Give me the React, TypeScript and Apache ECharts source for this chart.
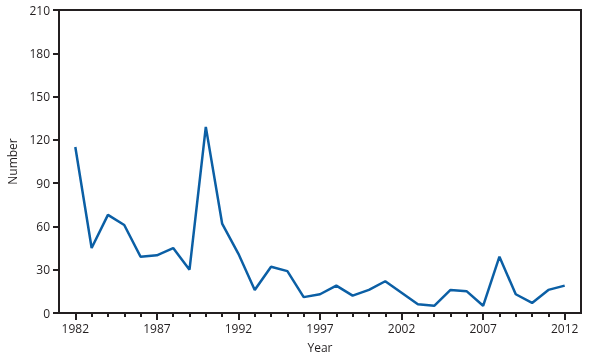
import React, { useEffect, useRef } from "react";
import * as echarts from "echarts";

const years: string[] = [];
for (let y = 1981; y <= 2013; y++) years.push(String(y));

const dataYears = [1982, 1983, 1984, 1985, 1986, 1987, 1988, 1989, 1990, 1991, 1992, 1993, 1994, 1995, 1996, 1997, 1998, 1999, 2000, 2001, 2002, 2003, 2004, 2005, 2006, 2007, 2008, 2009, 2010, 2011, 2012];
const counts = [115, 45, 68, 61, 39, 40, 45, 30, 129, 62, 41, 16, 32, 29, 11, 13, 19, 12, 16, 22, 14, 6, 5, 16, 15, 5, 39, 13, 7, 16, 19];
const labeledYears = ["1982", "1987", "1992", "1997", "2002", "2007", "2012"];

const seriesData = years.map((y) => {
  const i = dataYears.indexOf(Number(y));
  return i >= 0 ? counts[i] : null;
});

const FONT = "Open Sans";
const TXT = "#231f20";

export default function App() {
  const ref = useRef<HTMLDivElement>(null);
  useEffect(() => {
    if (!ref.current) return;
    const chart = echarts.init(ref.current, null, { renderer: "svg" });
    chart.setOption({
      animation: false,
      grid: {
        left: 59, right: 19, top: 10, bottom: 45,
        containLabel: false,
        outerBoundsMode: "none",
        show: true, borderColor: "#231f20", borderWidth: 2, backgroundColor: "transparent",
      },
      xAxis: [
        {
          type: "category",
          data: years,
          boundaryGap: false,
          name: "Year",
          nameLocation: "middle",
          nameGap: 28,
          nameTextStyle: { fontFamily: FONT, fontSize: 12, color: TXT },
          axisLine: { lineStyle: { color: TXT, width: 2 } },
          axisTick: {
            interval: (i: number, v: string) => v !== "1981" && v !== "2013" && !labeledYears.includes(v),
            length: 4,
            lineStyle: { color: TXT, width: 2 },
          },
          axisLabel: {
            interval: (i: number, v: string) => labeledYears.includes(v),
            fontFamily: FONT,
            fontSize: 12,
            color: TXT,
            margin: 9,
          },
          splitLine: { show: false },
        },
        {
          type: "category",
          data: years,
          boundaryGap: false,
          position: "bottom",
          axisLine: { show: false },
          axisTick: {
            interval: (i: number, v: string) => labeledYears.includes(v),
            length: 7,
            lineStyle: { color: TXT, width: 2 },
          },
          axisLabel: { show: false },
          splitLine: { show: false },
        },
      ],
      yAxis: {
        type: "value",
        min: 0,
        max: 210,
        interval: 30,
        name: "Number",
        nameLocation: "middle",
        nameGap: 40,
        nameRotate: 90,
        nameTextStyle: { fontFamily: FONT, fontSize: 12, color: TXT },
        axisLine: { show: true, lineStyle: { color: TXT, width: 2 } },
        axisTick: { show: true, length: 6, lineStyle: { color: TXT, width: 2 } },
        axisLabel: { fontFamily: FONT, fontSize: 12, color: TXT, margin: 9 },
        splitLine: { show: false },
      },
      series: [
        {
          type: "line",
          data: seriesData,
          xAxisIndex: 0,
          showSymbol: false,
          symbol: "none",
          connectNulls: false,
          lineStyle: { color: "#0b5fa5", width: 2.5 },
        },
      ],
    });
    return () => chart.dispose();
  }, []);
  return <div ref={ref} style={{ position: "fixed", left: 0, top: 0, width: 600, height: 358 }} />;
}
